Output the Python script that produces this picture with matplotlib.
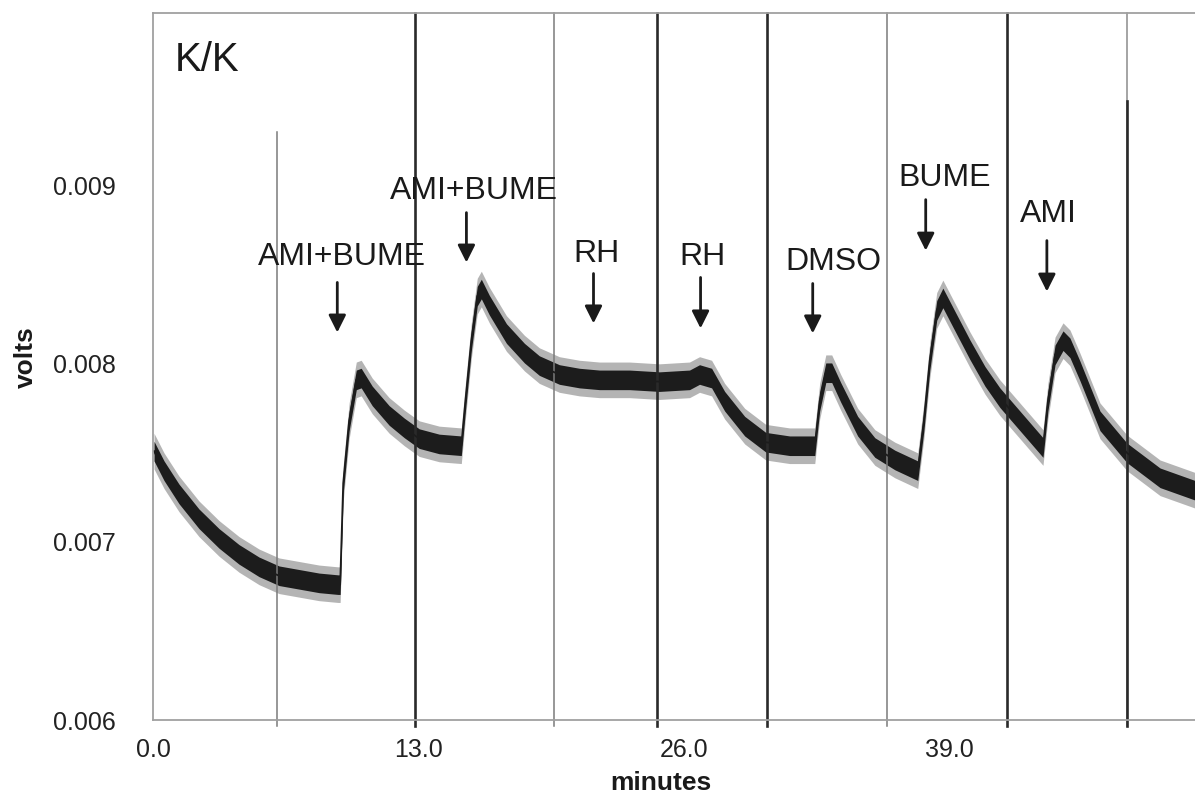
import matplotlib
matplotlib.use('Agg')
import matplotlib.pyplot as plt
import numpy as np

plt.rcParams['font.family'] = ['Liberation Sans', 'DejaVu Sans']

# recorded trace, read at the band centre (minutes, volts)
minutes = [0.05, 0.54, 1.27, 2.25, 3.23, 4.21, 5.19, 6.17, 7.15, 8.13, 9.06, 9.16,
           9.31, 9.60, 9.95, 10.19, 10.73, 11.56, 12.30, 13.03, 14.01, 15.09,
           15.29, 15.58, 15.87, 16.07, 16.46, 17.30, 18.18, 18.91, 19.89, 20.87,
           21.85, 23.32, 24.79, 26.26, 26.75, 27.34, 27.98, 28.96, 29.99, 31.16,
           32.39, 32.63, 32.93, 33.22, 33.66, 34.49, 35.33, 36.31, 37.43,
           37.73, 38.02, 38.36, 38.66, 39.25, 39.98, 40.72, 41.45, 42.43, 43.56,
           43.80, 44.15, 44.54, 44.88, 45.37, 46.35, 47.67, 49.29, 51.0]
volts = [0.00751, 0.00740, 0.00727, 0.00713, 0.00702, 0.00693, 0.00686, 0.00681,
         0.00679, 0.00677, 0.00676, 0.00676,
         0.00733, 0.00768, 0.00791, 0.00792, 0.00782, 0.00771, 0.00764, 0.00758,
         0.00755, 0.00754,
         0.00779, 0.00813, 0.00838, 0.00842, 0.00833, 0.00817, 0.00806, 0.00799,
         0.00794, 0.00792, 0.00791, 0.00791, 0.00790, 0.00791, 0.00794, 0.00792,
         0.00779, 0.00765, 0.00756, 0.00754,
         0.00754, 0.00779, 0.00795, 0.00795, 0.00784, 0.00765, 0.00753, 0.00746,
         0.00740,
         0.00768, 0.00802, 0.00830, 0.00837, 0.00824, 0.00808, 0.00793, 0.00781,
         0.00768, 0.00753,
         0.00779, 0.00805, 0.00813, 0.00809, 0.00796, 0.00768, 0.00750, 0.00736,
         0.00729]

# solution-change markers (minutes, lower edge of line in volts, dark or grey)
marker_t = [6.08, 12.84, 19.65, 24.69, 30.03, 35.91, 41.79, 47.67]
marker_top = [0.0093, None, None, None, None, None, None, 0.009477]
marker_dark = [False, True, False, True, True, False, True, True]

# drug additions: label, label position, arrow x, arrow start, arrow tip
drugs = ['AMI+BUME', 'AMI+BUME', 'RH', 'RH', 'DMSO', 'BUME', 'AMI']
drug_tx = [9.26, 15.73, 21.71, 26.90, 33.32, 38.76, 43.80]
drug_ty = [0.008602, 0.008973, 0.008614, 0.008602, 0.008569, 0.009045, 0.008844]
arrow_x = [9.02, 15.34, 21.56, 26.80, 32.29, 37.82, 43.75]
arrow_from = [0.008457, 0.008849, 0.008507, 0.008485, 0.008451, 0.008922, 0.008692]
arrow_to = [0.008176, 0.008569, 0.008227, 0.008199, 0.008171, 0.008636, 0.008406]

xticks = [0.0, 13.0, 26.0, 39.0]
yticks = [0.006, 0.007, 0.008, 0.009]

t = np.array(minutes)
v = np.array(volts)

fig = plt.figure(figsize=(11.95, 8.0), dpi=100)
ax = fig.add_axes([153/1195, 80/800, 1 - 153/1195, 707/800])
ax.set_xlim(0, 51)
ax.set_ylim(0.006, 0.00997)

for x, top, dark in zip(marker_t, marker_top, marker_dark):
    y1 = 1.0
    if top is not None:
        y1 = (top - 0.006) / (0.00997 - 0.006)
    if dark and top is not None:
        # grey gridline above the shorter dark marker
        ax.axvline(x, ymin=-0.009, ymax=1.0, color='#8c8c8c', lw=1.1, clip_on=False)
    ax.axvline(x, ymin=-0.009, ymax=y1, color='#2a2a2a' if dark else '#7a7a7a',
               lw=1.9 if dark else 1.1, clip_on=False)

# noisy band round the trace
ax.fill_between(t, v - 0.0001, v + 0.0001, color='#6a6a6a', alpha=0.5, lw=0)
ax.fill_between(t, v - 0.000055, v + 0.000055, color='#1c1c1c', lw=0)
ax.plot(t, v, color='#1c1c1c', lw=1.3)

for name, tx, ty, ax_x, a0, a1 in zip(drugs, drug_tx, drug_ty, arrow_x, arrow_from, arrow_to):
    ax.text(tx, ty, name, ha='center', va='center', fontsize=23, color='#1a1a1a')
    ax.annotate('', xy=(ax_x, a1), xytext=(ax_x, a0),
                arrowprops=dict(arrowstyle='-|>', color='#1a1a1a', lw=2,
                                mutation_scale=26, shrinkA=0, shrinkB=0))

ax.text(0.021, 0.9335, 'K/K', transform=ax.transAxes, ha='left', va='center',
        fontsize=29, color='#1a1a1a')

ax.set_xticks(xticks)
ax.set_xticklabels([f'{x:.1f}' for x in xticks])
ax.set_yticks(yticks)
ax.set_yticklabels([f'{y:.3f}' for y in yticks])
ax.tick_params(axis='both', length=0, labelsize=18, colors='#222222')
ax.tick_params(axis='x', pad=13)
ax.tick_params(axis='y', pad=27)

for side in ['left', 'bottom', 'top']:
    ax.spines[side].set_color('#a0a0a0')
    ax.spines[side].set_linewidth(1.3)
ax.spines['right'].set_visible(False)

ax.set_xlabel('minutes', fontsize=19, fontweight='bold', color='#1a1a1a')
ax.xaxis.set_label_coords(0.487, -0.072)
ax.set_ylabel('volts', fontsize=19, fontweight='bold', color='#1a1a1a')
ax.yaxis.set_label_coords(-0.110, 0.513)

fig.savefig('out.png', dpi=100)
